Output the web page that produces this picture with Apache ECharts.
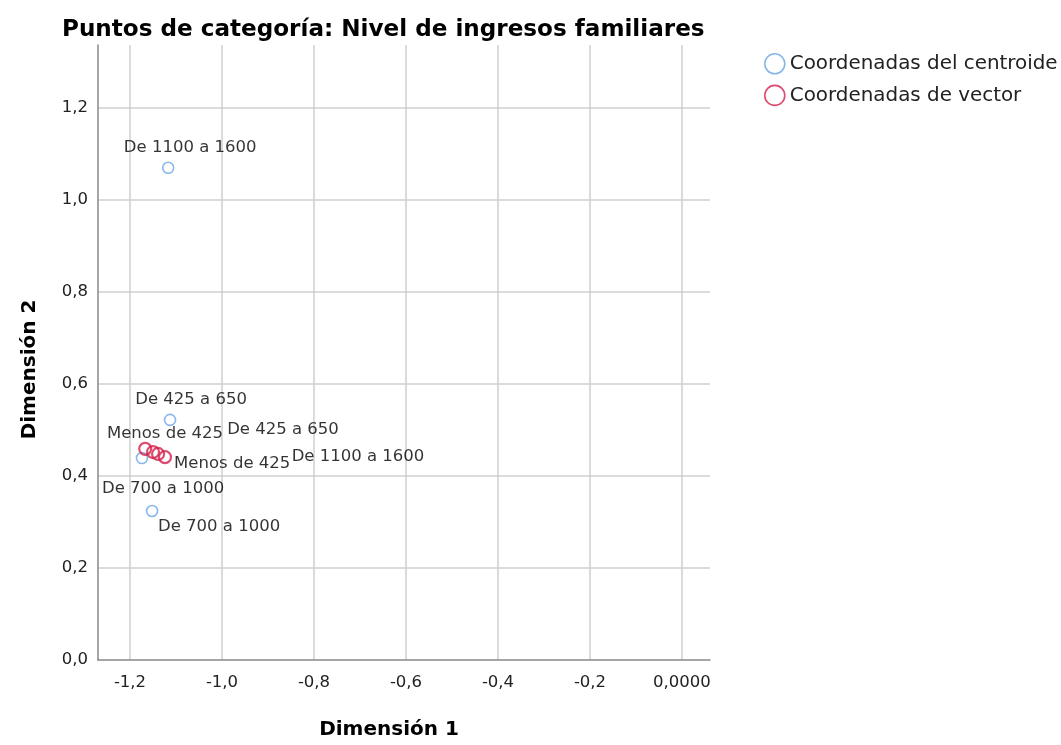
<!DOCTYPE html>
<html>
<head>
<meta charset="utf-8">
<script src="https://cdn.jsdelivr.net/npm/echarts@6/dist/echarts.min.js"></script>
<style>
  html, body { margin: 0; padding: 0; background: #fff; }
  #chart { width: 1061px; height: 745px; }
</style>
</head>
<body>
<div id="chart"></div>
<script>
// category names (same order for both series)
const categories = ['Menos de 425', 'De 425 a 650', 'De 700 a 1000', 'De 1100 a 1600']

// centroid coordinates (dim 1, dim 2)
const centroidX = [-1.174, -1.113, -1.152, -1.117]
const centroidY = [0.439, 0.522, 0.324, 1.070]

// vector coordinates
const vectorX = [-1.167, -1.150, -1.139, -1.124]
const vectorY = [0.459, 0.452, 0.448, 0.441]

const xTicks = [-1.2, -1.0, -0.8, -0.6, -0.4, -0.2, 0.0]
const yTicks = [0.0, 0.2, 0.4, 0.6, 0.8, 1.0, 1.2]

// label placement (px from the point), tuned to look like the SPSS output
const centroidLabelOffset = [[23, -24], [21, -20], [67, 16], [22, -20]]
const vectorLabelOffset = [[87, 15], [130, -22], [5, 35], [193, 0]]

const BLUE = '#6aa6e6'
const RED = '#d41f4a'
const FONT = 'DejaVu Sans'

function isTick(v, ticks) {
  return ticks.some(t => Math.abs(t - v) < 1e-6)
}
function fmt(v) {
  return v.toFixed(1).replace('.', ',')
}

function buildData(xs, ys, offsets) {
  return categories.map((name, i) => ({
    name,
    value: [xs[i], ys[i]],
    label: { offset: offsets[i] }
  }))
}

const labelStyle = {
  show: true,
  position: 'inside',
  formatter: p => p.name,
  color: '#000',
  fontFamily: FONT,
  fontSize: 16.5
}

const chart = echarts.init(document.getElementById('chart'))
chart.setOption({
  animation: false,
  backgroundColor: '#fff',
  title: {
    text: 'Puntos de categoría: Nivel de ingresos familiares',
    left: 57, top: 13,
    textStyle: { fontFamily: FONT, fontWeight: 'bold', fontSize: 23.1, color: '#000' }
  },
  legend: {
    orient: 'vertical',
    left: 759, top: 48,
    itemWidth: 20, itemHeight: 20, itemGap: 10,
    icon: 'circle',
    itemStyle: { color: '#fff', borderColor: 'inherit', borderWidth: 1.6 },
    textStyle: { fontFamily: FONT, fontSize: 19.9, color: '#222', padding: [0, 0, 0, 0] },
    data: ['Coordenadas del centroide', 'Coordenadas de vector']
  },
  grid: { left: 98, right: 351, top: 45, bottom: 85 },
  xAxis: {
    type: 'value',
    min: -1.2696, max: 0.0609,
    name: 'Dimensión 1',
    nameLocation: 'middle', nameGap: 60,
    nameTextStyle: { fontFamily: FONT, fontWeight: 'bold', fontSize: 20, color: '#000', padding: [0, 30, 0, 0] },
    axisLine: { onZero: false, lineStyle: { color: '#888', width: 1.5 } },
    axisTick: { show: false, customValues: xTicks },
    axisLabel: {
      color: '#222', fontFamily: FONT, fontSize: 16.5, margin: 14,
      customValues: xTicks,
      formatter: v => Math.abs(v) < 1e-9 ? '0,0000' : fmt(v)
    },
    splitLine: { lineStyle: { color: '#cfcfcf', width: 1.5 }, showMinLine: true, showMaxLine: true }
  },
  yAxis: {
    type: 'value',
    min: 0, max: 1.337, interval: 0.2,
    name: 'Dimensión 2',
    nameLocation: 'middle', nameGap: 58,
    nameTextStyle: { fontFamily: FONT, fontWeight: 'bold', fontSize: 20, color: '#000', padding: [0, 34, 0, 0] },
    axisLine: { show: true, onZero: false, lineStyle: { color: '#888', width: 1.5 } },
    axisTick: { show: false },
    axisLabel: {
      color: '#222', fontFamily: FONT, fontSize: 16.5, margin: 10,
      formatter: v => isTick(v, yTicks) ? fmt(v) : ''
    },
    splitLine: { lineStyle: { color: '#cfcfcf', width: 1.5 }, showMinLine: false, showMaxLine: false }
  },
  series: [
    {
      name: 'Coordenadas del centroide',
      type: 'scatter',
      symbol: 'circle', symbolSize: 11,
      itemStyle: { color: 'rgba(255,255,255,0)', borderColor: BLUE, borderWidth: 1.6 },
      label: labelStyle,
      data: buildData(centroidX, centroidY, centroidLabelOffset),
      z: 3
    },
    {
      name: 'Coordenadas de vector',
      type: 'scatter',
      symbol: 'circle', symbolSize: 12,
      itemStyle: { color: 'rgba(255,255,255,0)', borderColor: RED, borderWidth: 2.2 },
      label: labelStyle,
      data: buildData(vectorX, vectorY, vectorLabelOffset),
      z: 4
    }
  ]
})
</script>
</body>
</html>
